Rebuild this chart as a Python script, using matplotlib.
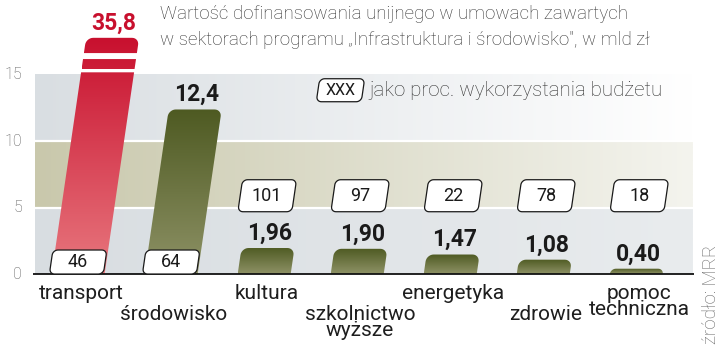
import numpy as np
import matplotlib
matplotlib.use("Agg")
import matplotlib.pyplot as plt
from matplotlib.patches import Polygon
from matplotlib.colors import LinearSegmentedColormap

plt.rcParams['font.family'] = ['Roboto', 'DejaVu Sans']

# --- data ---
categories = ['transport', 'środowisko', 'kultura', 'szkolnictwo\nwyższe',
              'energetyka', 'zdrowie', 'pomoc\ntechniczna']
values = [35.8, 12.4, 1.96, 1.90, 1.47, 1.08, 0.40]
value_labels = ['35,8', '12,4', '1,96', '1,90', '1,47', '1,08', '0,40']
budget_pct = [46, 64, 101, 97, 22, 78, 18]
yticks = [0, 5, 10, 15]

title = ('Wartość dofinansowania unijnego w umowach zawartych\n'
         'w sektorach programu „Infrastruktura i środowisko", w mld zł')
legend_text = 'jako proc. wykorzystania budżetu'
source = 'źródło: MRR'

# --- style ---
AXIS_CAP = 17.8            # where the off-scale bar is cut
BREAKS = [(15.2, 15.45), (16.2, 16.65)]
BOX_LEVEL = 5.9            # height of the percentage boxes
BAR_W = 53                 # px
SLANT = 0.146
RED = ('#e8777e', '#c8102e')
OLIVE = ('#8e9266', '#4e5a22')

fig = plt.figure(figsize=(7.2, 3.47), dpi=100)
ax = fig.add_axes([0, 0, 1, 1])
ax.axis('off')
XLIM, YLIM = (-0.84, 6.90), (-5.5, 20.65)
ax.set_xlim(*XLIM)
ax.set_ylim(*YLIM)

to_disp = ax.transData.transform
to_data = ax.transData.inverted().transform


def shape(cx, y_bot, y_top, w, r, skew_y0, round_top=True, round_bot=False):
    """Rounded, skewed rectangle in display px -> data coordinates."""
    x0, x1 = cx - w / 2, cx + w / 2
    r = min(r, (y_top - y_bot))
    n = 8
    pts = []
    if round_bot:
        for a in np.linspace(np.pi, 1.5 * np.pi, n):
            pts.append((x0 + r + r * np.cos(a), y_bot + r + r * np.sin(a)))
        for a in np.linspace(1.5 * np.pi, 2 * np.pi, n):
            pts.append((x1 - r + r * np.cos(a), y_bot + r + r * np.sin(a)))
    else:
        pts += [(x0, y_bot), (x1, y_bot)]
    if round_top:
        for a in np.linspace(0, 0.5 * np.pi, n):
            pts.append((x1 - r + r * np.cos(a), y_top - r + r * np.sin(a)))
        for a in np.linspace(0.5 * np.pi, np.pi, n):
            pts.append((x0 + r + r * np.cos(a), y_top - r + r * np.sin(a)))
    else:
        pts += [(x1, y_top), (x0, y_top)]
    pts = np.array(pts)
    pts[:, 0] += SLANT * (pts[:, 1] - skew_y0)
    return to_data(pts)


def gradient_fill(poly_xy, x_lo, x_hi, y_lo, y_hi, colors, z=2):
    clip = Polygon(poly_xy, closed=True, fill=False, lw=0,
                   transform=ax.transData)
    ax.add_patch(clip)
    cmap = LinearSegmentedColormap.from_list('g', colors)
    im = ax.imshow(np.linspace(0, 1, 256)[:, None], cmap=cmap,
                   extent=[x_lo, x_hi, y_lo, y_hi], origin='lower',
                   aspect='auto', zorder=z, interpolation='bilinear')
    im.set_clip_path(clip)


# --- background bands ---
band_x0 = (35 - to_disp((0, 0))[0]) / (to_disp((1, 0))[0] - to_disp((0, 0))[0])
band_x1 = 6.6
bands = [(0, 5, ('#d8dde1', '#e9ecee')),
         (5, 10, ('#c9c8ac', '#f4f4ee')),
         (10, 15, ('#d9dee2', '#ffffff'))]
for lo, hi, cols in bands:
    cmap = LinearSegmentedColormap.from_list('b', cols)
    ax.imshow(np.linspace(0, 1, 256)[None, :], cmap=cmap,
              extent=[band_x0, band_x1, lo, hi], origin='lower',
              aspect='auto', zorder=0)
for t in yticks[1:-1]:
    ax.plot([band_x0, band_x1], [t, t], color='white', lw=1.6, zorder=1)
for t in yticks:
    ax.text(band_x0 - 0.14, t, str(t), ha='right', va='center',
            fontsize=11.5, color='#555555', fontweight='light')

# --- bars ---
base_y = to_disp((0, 0))[1]
for i, v in enumerate(values):
    cx = to_disp((i, 0))[0]
    shown = min(v, AXIS_CAP)
    top_px = to_disp((0, shown))[1]
    cols = RED if v > AXIS_CAP else OLIVE
    cuts = [0] + [c for b in BREAKS for c in b] + [shown] if v > AXIS_CAP else [0, shown]
    for k in range(0, len(cuts), 2):
        lo_px = to_disp((0, cuts[k]))[1]
        hi_px = to_disp((0, cuts[k + 1]))[1]
        last = k + 2 >= len(cuts)
        poly = shape(cx, lo_px, hi_px, BAR_W, 7, base_y, round_top=last)
        gradient_fill(poly, poly[:, 0].min(), poly[:, 0].max(), 0, shown, cols)
    # value label over the bar top
    tx = to_data((cx + SLANT * (top_px - base_y), top_px))[0]
    ax.annotate(value_labels[i], (tx, shown), xytext=(1, 6),
                textcoords='offset points', ha='center', va='baseline',
                fontsize=16.5, fontweight='bold',
                color='#c8102e' if v > AXIS_CAP else '#1a1a1a', zorder=6)

ax.plot([band_x0 - 0.02, band_x1 + 0.02], [0, 0], color='#111111', lw=1.3,
        zorder=3, solid_capstyle='butt')


# --- percentage boxes ---
def pct_box(cx, y_bot, y_top, w, text, fs):
    poly = shape(cx, y_bot, y_top, w, 5, (y_bot + y_top) / 2,
                 round_top=True, round_bot=True)
    ax.add_patch(Polygon(poly, closed=True, facecolor='white',
                         edgecolor='#1a1a1a', lw=0.9, zorder=4))
    cxy = to_data((cx, (y_bot + y_top) / 2))
    ax.text(cxy[0], cxy[1], text, ha='center', va='center', fontsize=fs,
            color='#1a1a1a', zorder=5)


for i, (v, p) in enumerate(zip(values, budget_pct)):
    cx = to_disp((i, 0))[0]
    if v > BOX_LEVEL:
        pct_box(cx, base_y, base_y + 24, 54, str(p), 13)
    else:
        mid = to_disp((0, BOX_LEVEL))[1]
        pct_box(cx + 3, mid - 16, mid + 16, 54, str(p), 13)

# legend
leg_c = to_disp((2.82, 13.85))
pct_box(leg_c[0], leg_c[1] - 11.5, leg_c[1] + 11.5, 45, 'XXX', 11.5)
ax.text(3.13, 13.85, legend_text, ha='left', va='center', fontsize=14.8,
        fontweight='light', color='#333333')

# --- category labels, alternating rows ---
for i, c in enumerate(categories):
    y = -0.72 if i % 2 == 0 else -2.3
    ax.text(i + 0.03, y, c, ha='center', va='top', fontsize=15,
            color='#1e1e1e', linespacing=0.85)

# --- title and source ---
ax.text(0.88, 20.3, title, ha='left', va='top', fontsize=13.5,
        fontweight='light', color='#333333', linespacing=1.6)
ax.text(6.8, -5.3, source, rotation=90, ha='center', va='bottom',
        fontsize=13.5, fontweight='light', color='#666666')

ax.set_xlim(*XLIM)
ax.set_ylim(*YLIM)
fig.savefig('out.png', dpi=100)
